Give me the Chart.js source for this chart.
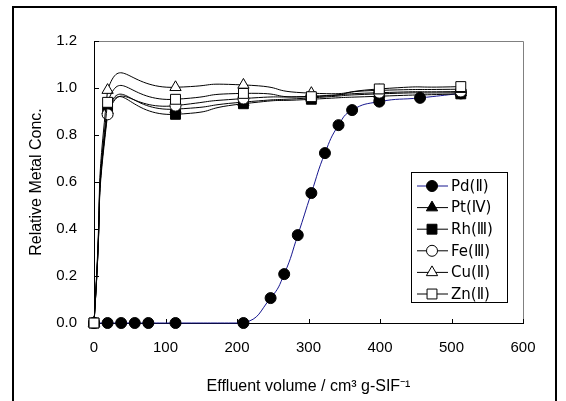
<!DOCTYPE html>
<html>
<head>
<meta charset="utf-8">
<script src="https://cdn.jsdelivr.net/npm/chart.js"></script>
<style>
  html, body { margin: 0; padding: 0; background: #fff; }
  #wrap { width: 566px; height: 401px; }
</style>
</head>
<body>
<div id="wrap"><canvas id="chart" width="566" height="401"></canvas></div>
<script>
// effluent volume (cm3 / g-SIF) and relative concentrations
const PD_X = [0, 19, 38, 57, 76, 114, 209, 247, 266, 285, 304, 323, 342, 361, 399, 456, 513]
const PD_Y = [0, 0, 0, 0, 0, 0, 0, 0.106, 0.208, 0.374, 0.553, 0.723, 0.842, 0.906, 0.942, 0.958, 0.977]
const METAL_X = [0, 19, 114, 209, 304, 399, 513]
const PT_Y = [0, 0.905, 0.91, 0.94, 0.958, 0.975, 0.98]
const RH_Y = [0, 0.9, 0.888, 0.933, 0.952, 0.965, 0.975]
const FE_Y = [0, 0.888, 0.925, 0.955, 0.965, 0.98, 0.985]
const CU_Y = [0, 0.991, 1.003, 1.013, 0.978, 0.99, 0.995]
const ZN_Y = [0, 0.939, 0.952, 0.977, 0.963, 0.996, 1.006]
const LABELS = ['Pd(Ⅱ)', 'Pt(Ⅳ)', 'Rh(Ⅲ)', 'Fe(Ⅲ)', 'Cu(Ⅱ)', 'Zn(Ⅱ)']

const FONT = '"Liberation Sans", Arial, "Noto Sans CJK JP", sans-serif'
const LEGEND_FONT = '"DejaVu Sans", "Noto Sans CJK JP", sans-serif'
const toPts = (xs, ys) => xs.map((x, i) => ({ x, y: ys[i] }))

function series(label, xs, ys, style, fill, radius, color, order, tension) {
  return {
    label,
    data: toPts(xs, ys),
    borderColor: color,
    borderWidth: 1,
    pointStyle: style,
    pointRadius: radius,
    pointBackgroundColor: fill,
    pointBorderColor: '#000',
    pointBorderWidth: 1,
    tension,
    clip: false,
    order,
  }
}

const datasets = [
  series(LABELS[0], PD_X, PD_Y, 'circle', '#000', 5.5, '#16168f', 5, 0.5),
  series(LABELS[1], METAL_X, PT_Y, 'triangle', '#000', 6.5, '#000', 4, 0.72),
  series(LABELS[2], METAL_X, RH_Y, 'rect', '#000', 7, '#000', 3, 0.72),
  series(LABELS[3], METAL_X, FE_Y, 'circle', '#fff', 5.5, '#000', 2, 0.72),
  series(LABELS[4], METAL_X, CU_Y, 'triangle', '#fff', 6.5, '#000', 1, 0.72),
  series(LABELS[5], METAL_X, ZN_Y, 'rect', '#fff', 7, '#000', 0, 0.72),
]

// outer frame + grey top/right edge of the plot area
const frame = {
  id: 'frame',
  beforeDraw(chart) {
    const ctx = chart.ctx
    ctx.save()
    ctx.fillStyle = '#fff'
    ctx.fillRect(0, 0, chart.width, chart.height)
    ctx.strokeStyle = '#000'
    ctx.lineWidth = 2
    ctx.strokeRect(13, 7, 543, 420)
    ctx.restore()
  },
  beforeDatasetsDraw(chart) {
    const { ctx, chartArea: a, scales } = chart
    ctx.save()
    ctx.strokeStyle = '#808080'
    ctx.lineWidth = 1
    ctx.beginPath()
    ctx.moveTo(a.left, a.top + 0.5)
    ctx.lineTo(a.right + 0.5, a.top + 0.5)
    ctx.lineTo(a.right + 0.5, a.bottom)
    ctx.stroke()
    // inward tick marks
    ctx.strokeStyle = '#000'
    ctx.beginPath()
    scales.x.ticks.forEach(t => {
      const x = Math.round(scales.x.getPixelForValue(t.value)) + 0.5
      ctx.moveTo(x, a.bottom)
      ctx.lineTo(x, a.bottom - 4)
    })
    scales.y.ticks.forEach(t => {
      const y = Math.round(scales.y.getPixelForValue(t.value)) + 0.5
      ctx.moveTo(a.left, y)
      ctx.lineTo(a.left + 5, y)
    })
    ctx.stroke()
    ctx.restore()
  },
}

// boxed legend inside the plot, line through marker
const boxLegend = {
  id: 'boxLegend',
  afterDatasetsDraw(chart) {
    const ctx = chart.ctx
    ctx.save()
    ctx.fillStyle = '#fff'
    ctx.fillRect(411.5, 172.5, 96, 130)
    ctx.strokeStyle = '#000'
    ctx.lineWidth = 1
    ctx.strokeRect(411.5, 172.5, 96, 130)
    chart.data.datasets.forEach((ds, i) => {
      const y = 186 + i * 21.6
      ctx.strokeStyle = ds.borderColor
      ctx.beginPath()
      ctx.moveTo(417, y)
      ctx.lineTo(448, y)
      ctx.stroke()
      ctx.fillStyle = ds.pointBackgroundColor
      ctx.strokeStyle = '#000'
      Chart.helpers.drawPoint(ctx, { pointStyle: ds.pointStyle, radius: ds.pointRadius, rotation: 0, borderWidth: 1 }, 432, y)
      ctx.fillStyle = '#000'
      ctx.font = '15px ' + LEGEND_FONT
      ctx.textBaseline = 'middle'
      ctx.fillText(ds.label, 451, y + 1)
    })
    ctx.restore()
  },
}

new Chart(document.getElementById('chart'), {
  type: 'line',
  data: { datasets },
  options: {
    responsive: false,
    animation: false,
    layout: { padding: { left: 0, top: 41, right: 43, bottom: 0 } },
    plugins: { legend: { display: false }, tooltip: { enabled: false } },
    scales: {
      x: {
        type: 'linear', min: 0, max: 600,
        ticks: { stepSize: 100, color: '#000', font: { family: FONT, size: 15 }, padding: 16 },
        grid: { display: false, drawTicks: false },
        border: { color: '#000', width: 1 },
        title: { display: true, text: 'Effluent volume / cm³ g-SIF⁻¹', color: '#000', font: { family: FONT, size: 16 }, padding: { top: 0, bottom: 5 } },
        afterFit(s) { s.height = 78 },
      },
      y: {
        min: 0, max: 1.2,
        ticks: { stepSize: 0.2, color: '#000', font: { family: FONT, size: 15 }, padding: 17, callback: v => v.toFixed(1) },
        grid: { display: false, drawTicks: false },
        border: { color: '#000', width: 1 },
        title: { display: true, text: 'Relative Metal Conc.', color: '#000', font: { family: FONT, size: 16 }, padding: { top: 27, bottom: 0 } },
        afterFit(s) { s.width = 94 },
      },
    },
  },
  plugins: [frame, boxLegend],
})
</script>
</body>
</html>
